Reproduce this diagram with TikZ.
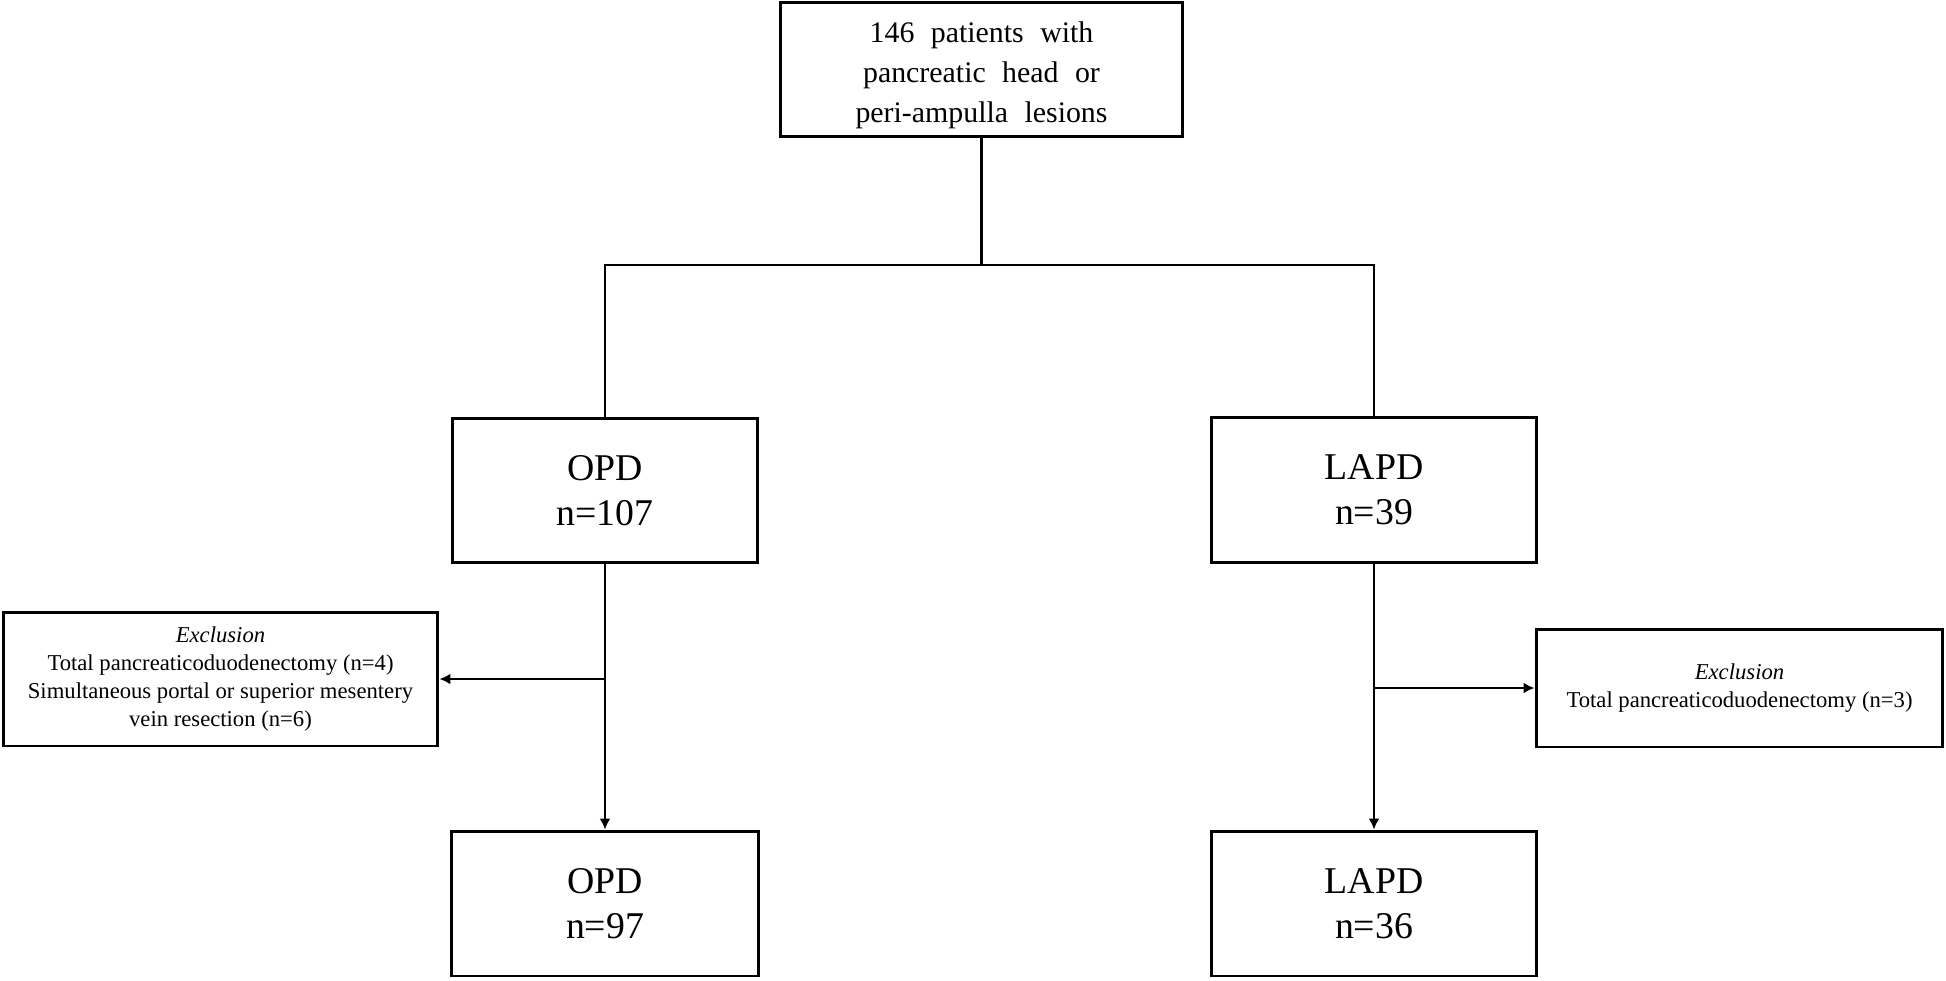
\documentclass[tikz,border=0pt]{standalone}
\usepackage{fontspec}
\setmainfont{Liberation Serif}
\usepackage{tikz}
\usetikzlibrary{arrows.meta,positioning}
\newcommand\topfont{\fontsize{17}{22.7}\selectfont\spaceskip=0.55em\relax}

\begin{document}
\begin{tikzpicture}[x=0.02cm,y=-0.02cm,
            box/.style={draw,line width=1.7pt,align=center,inner sep=0pt},
            bigbox/.style={box,font=\fontsize{21.5}{25.8}\selectfont},
            topbox/.style={box,font=\topfont},
            exclbox/.style={box,font=\fontsize{12.9}{16.1}\selectfont},
            link/.style={line width=1.4pt},
            arr/.style={link,-{Latex[length=0.22cm,width=0.22cm]}}]
            \path[fill=white] (0,0) rectangle (1946,980);
            \node[topbox,minimum width=8.06cm,minimum height=2.7cm] (top) at (981.5,69.5) {\rule{0pt}{0.66cm}146 patients with\\pancreatic head or\\peri-ampulla lesions};
            \node[bigbox,minimum width=6.1cm,minimum height=2.9cm] (opd) at (605,490.5) {OPD\\n=107};
            \node[bigbox,minimum width=6.52cm,minimum height=2.92cm] (lapd) at (1374,490) {LAPD\\n=39};
            \node[bigbox,minimum width=6.14cm,minimum height=2.9cm] (opdend) at (605,903.5) {OPD\\n=97};
            \node[bigbox,minimum width=6.5cm,minimum height=2.9cm] (lapdend) at (1374,903.5) {LAPD\\n=36};
            \node[exclbox,minimum width=8.7cm,minimum height=2.68cm] (exclopd) at (220.5,679) {\textit{Exclusion}\\Total pancreaticoduodenectomy (n=4)\\Simultaneous portal or superior mesentery\\vein resection (n=6)};
            \node[exclbox,minimum width=8.14cm,minimum height=2.36cm] (excllapd) at (1739.5,688) {\textit{Exclusion}\\Total pancreaticoduodenectomy (n=3)};
            \coordinate (split) at (top.south |- 0,265);
            \coordinate (opdout) at (opd.south |- exclopd.east);
            \coordinate (lapdout) at (lapd.south |- excllapd.west);
            \draw[link] (top) -- (split);
            \draw[link] (opd.north) |- (split) -| (lapd.north);
            \draw[arr] (opd) -- (opdend);
            \draw[arr] (lapd) -- (lapdend);
            \draw[arr] (opdout) -- (exclopd);
            \draw[arr] (lapdout) -- (excllapd);
          \end{tikzpicture}
\end{document}
